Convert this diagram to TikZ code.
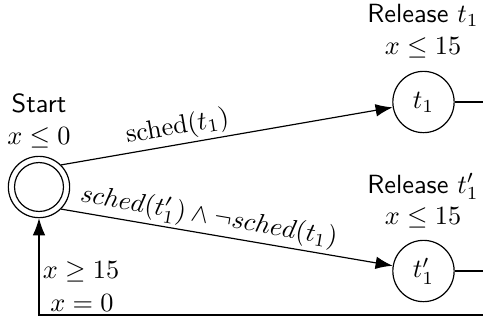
\documentclass[tikz,border=0pt]{standalone}
\usetikzlibrary{arrows.meta}
\begin{document}
\begin{tikzpicture}[x=0.38pt,y=-0.38pt,
  state/.style={draw,circle,minimum size=23.3pt,inner sep=0pt,line width=0.45pt},
  arr/.style={-{Latex[length=6.5pt,width=4.8pt]},line width=0.45pt},
  plain/.style={line width=0.45pt},
  elbl/.style={sloped,above,inner sep=1.2pt},
  lbl/.style={align=center,inner sep=0pt}]
\useasboundingbox (0,0) rectangle (483,320);
\node[state] (start) at (39,187) {};
\draw[plain] (start.center) circle[radius=9.3pt];
\node[state] (t1) at (423.5,102) {$t_1$};
\node[state] (t1p) at (423.5,271) {$t'_1$};
\node[lbl] (startlbl) at (39,121) {\textsf{Start}\\$x\le 0$};
\node[lbl] (rel1) at (423,31) {\textsf{Release} $t_1$\\$x\le 15$};
\node[lbl] (rel2) at (423,201) {\textsf{Release} $t'_1$\\$x\le 15$};
\node[lbl] (g) at (81,272) {$x\ge 15$};
\node[lbl] (r) at (82,303) {$x=0$};
\coordinate (bre) at (483,315);
\coordinate (e1) at (483,102);
\coordinate (e2) at (483,271);
\draw[arr] (start.north east) -- node[elbl,pos=0.36] {$\mathrm{sched}(t_1)$} (t1);
\draw[arr] (start.south east) -- node[elbl,pos=0.437] {$sched(t'_1)\wedge\neg sched(t_1)$} (t1p);
\draw[plain] (t1.east) -- (t1.east -| e1);
\draw[plain] (t1p.east) -- (t1p.east -| e2);
\draw[arr] (bre) -- (start.south |- bre) -- (start.south);
\end{tikzpicture}
\end{document}
